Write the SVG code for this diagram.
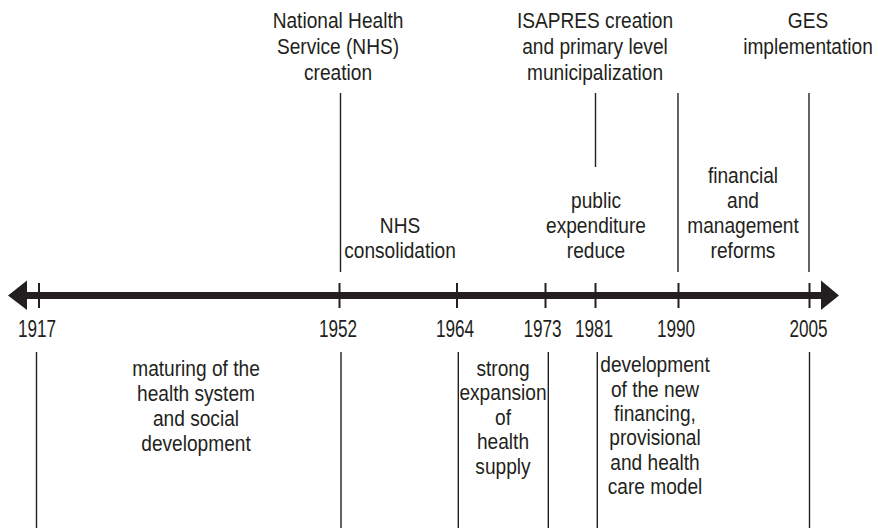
<svg xmlns="http://www.w3.org/2000/svg" width="878" height="528" viewBox="0 0 878 528">
<style>
text{font-family:"Liberation Sans",Arial,sans-serif;fill:#231f20;text-anchor:middle}
.lbl{font-size:22.5px}
.yr{font-size:23.5px}
.vl{stroke:#231f20;stroke-width:1.4;fill:none}
.tk{stroke:#231f20;stroke-width:2;fill:none}
</style>
<rect width="878" height="528" fill="#fff"/>
<g id="connectors">
<line x1="24" y1="295.5" x2="824" y2="295.5" stroke="#231f20" stroke-width="7"/>
<polygon points="8,295.5 27,280.5 27,310" fill="#231f20"/>
<polygon points="839,295.5 821,280.5 821,310" fill="#231f20"/>
<line class="tk" x1="39" y1="283" x2="39" y2="308"/>
<line class="tk" x1="339.5" y1="283" x2="339.5" y2="308"/>
<line class="tk" x1="457" y1="283" x2="457" y2="308"/>
<line class="tk" x1="545.5" y1="283" x2="545.5" y2="308"/>
<line class="tk" x1="595.5" y1="283" x2="595.5" y2="308"/>
<line class="tk" x1="678.5" y1="283" x2="678.5" y2="308"/>
<line class="tk" x1="809.5" y1="283" x2="809.5" y2="308"/>
<line class="vl" x1="340.5" y1="93" x2="340.5" y2="272"/>
<line class="vl" x1="595.5" y1="93" x2="595.5" y2="167"/>
<line class="vl" x1="678" y1="93" x2="678" y2="272"/>
<line class="vl" x1="809" y1="93" x2="809" y2="272"/>
<line class="vl" x1="36.5" y1="352" x2="36.5" y2="528"/>
<line class="vl" x1="341" y1="352" x2="341" y2="528"/>
<line class="vl" x1="458.3" y1="352" x2="458.3" y2="528"/>
<line class="vl" x1="548.3" y1="352" x2="548.3" y2="528"/>
<line class="vl" x1="597.3" y1="352" x2="597.3" y2="528"/>
<line class="vl" x1="809.5" y1="352" x2="809.5" y2="528"/>
</g>
<g id="years">
<text class="yr" transform="translate(37 337) scale(0.73 1)">1917</text>
<text class="yr" transform="translate(338 337) scale(0.73 1)">1952</text>
<text class="yr" transform="translate(455 337) scale(0.73 1)">1964</text>
<text class="yr" transform="translate(542.5 337) scale(0.73 1)">1973</text>
<text class="yr" transform="translate(594 337) scale(0.73 1)">1981</text>
<text class="yr" transform="translate(676 337) scale(0.73 1)">1990</text>
<text class="yr" transform="translate(808.5 337) scale(0.73 1)">2005</text>
</g>
<g id="nhs-creation" transform="translate(338 0) scale(0.85 1)">
<text class="lbl" x="0" y="28">National Health</text>
<text class="lbl" x="0" y="54">Service (NHS)</text>
<text class="lbl" x="0" y="80">creation</text>
</g>
<g id="isapres" transform="translate(595 0) scale(0.85 1)">
<text class="lbl" x="0" y="28">ISAPRES creation</text>
<text class="lbl" x="0" y="54">and primary level</text>
<text class="lbl" x="0" y="80">municipalization</text>
</g>
<g id="ges" transform="translate(808 0) scale(0.85 1)">
<text class="lbl" x="0" y="28">GES</text>
<text class="lbl" x="0" y="54">implementation</text>
</g>
<g id="nhs-consolidation" transform="translate(400 0) scale(0.85 1)">
<text class="lbl" x="0" y="233">NHS</text>
<text class="lbl" x="0" y="258">consolidation</text>
</g>
<g id="public-expenditure" transform="translate(596 0) scale(0.85 1)">
<text class="lbl" x="0" y="208">public</text>
<text class="lbl" x="0" y="233">expenditure</text>
<text class="lbl" x="0" y="258">reduce</text>
</g>
<g id="reforms" transform="translate(743 0) scale(0.85 1)">
<text class="lbl" x="0" y="183">financial</text>
<text class="lbl" x="0" y="208">and</text>
<text class="lbl" x="0" y="233">management</text>
<text class="lbl" x="0" y="258">reforms</text>
</g>
<g id="maturing" transform="translate(196 0) scale(0.85 1)">
<text class="lbl" x="0" y="376">maturing of the</text>
<text class="lbl" x="0" y="401">health system</text>
<text class="lbl" x="0" y="426">and social</text>
<text class="lbl" x="0" y="451">development</text>
</g>
<g id="expansion" transform="translate(503 0) scale(0.85 1)">
<text class="lbl" x="0" y="376">strong</text>
<text class="lbl" x="0" y="400">expansion</text>
<text class="lbl" x="0" y="425">of</text>
<text class="lbl" x="0" y="449">health</text>
<text class="lbl" x="0" y="474">supply</text>
</g>
<g id="new-model" transform="translate(655 0) scale(0.85 1)">
<text class="lbl" x="0" y="372">development</text>
<text class="lbl" x="0" y="397">of the new</text>
<text class="lbl" x="0" y="421">financing,</text>
<text class="lbl" x="0" y="445">provisional</text>
<text class="lbl" x="0" y="470">and health</text>
<text class="lbl" x="0" y="494">care model</text>
</g>
</svg>
